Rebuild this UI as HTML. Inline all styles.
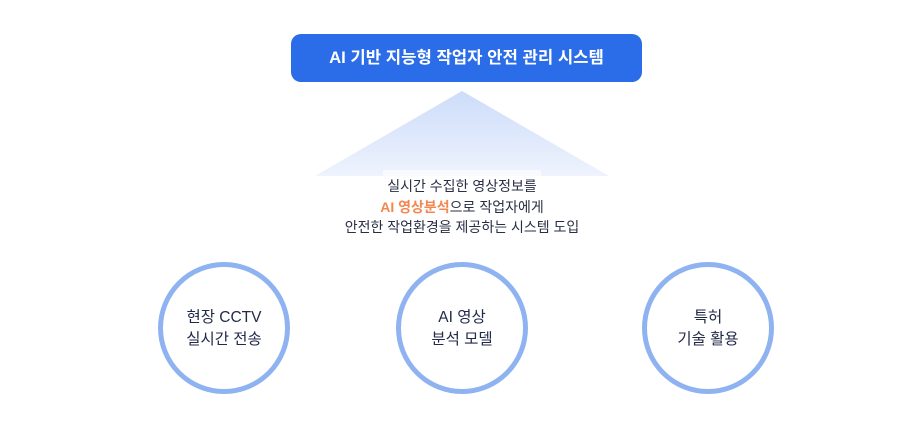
<!DOCTYPE html>
<html><head><meta charset="utf-8"><style>
body{margin:0;width:924px;height:429px;background:#fff;position:relative;overflow:hidden;font-family:"Liberation Sans","Noto Sans CJK KR",sans-serif}
.btn{position:absolute;left:291px;top:34px;width:351px;height:48px;background:#2b6de8;border-radius:10px;color:#fff;font-weight:bold;font-size:16.7px;text-align:center;line-height:48px}
.txt{position:absolute;left:300px;width:324px;top:176px;text-align:center;font-size:14px;line-height:20.5px;color:#2a2f45}
.c{position:absolute;width:122px;height:122px;border:5px solid #8fb3f0;border-radius:50%;display:flex;align-items:center;justify-content:center;text-align:center;font-size:15.5px;line-height:22px;color:#222a4a;padding-top:2px;box-sizing:content-box}
</style></head><body>
<div class="btn">AI 기반 지능형 작업자 안전 관리 시스템</div>
<svg style="position:absolute;left:0;top:0" width="924" height="429">
<defs><linearGradient id="g" x1="0" y1="0" x2="0" y2="1"><stop offset="0" stop-color="#cddcfa"/><stop offset="1" stop-color="#eef3fd"/></linearGradient></defs>
<polygon points="462,91 609,176 315,176" fill="url(#g)"/>
<rect x="383" y="170" width="158" height="8" fill="#fff" opacity="0.6"/>
</svg>
<div class="txt">실시간 수집한 영상정보를<br><b style="color:#f3874f">AI 영상분석</b>으로 작업자에게<br>안전한 작업환경을 제공하는 시스템 도입</div>
<div class="c" style="left:158px;top:262px;height:120px">현장 CCTV<br>실시간 전송</div>
<div class="c" style="left:396px;top:262px;height:120px">AI 영상<br>분석 모델</div>
<div class="c" style="left:642px;top:262px;height:120px">특허<br>기술 활용</div>
</body></html>
